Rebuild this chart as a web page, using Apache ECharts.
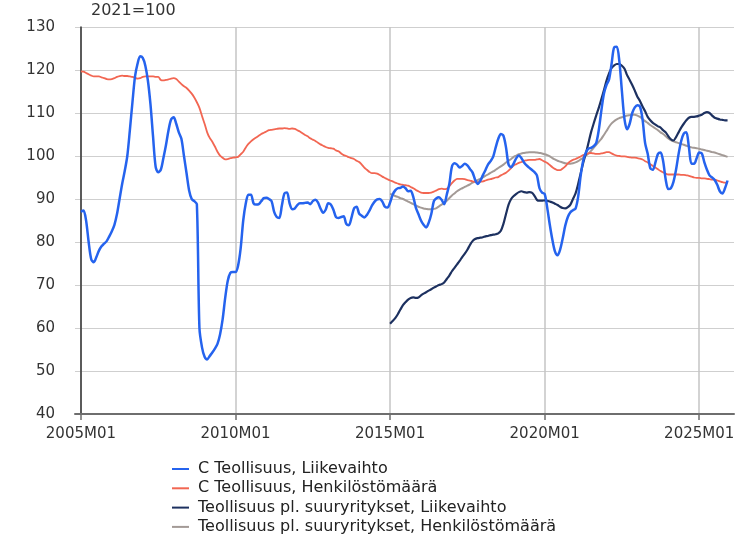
<!DOCTYPE html>
<html>
<head>
<meta charset="utf-8">
<script src="https://cdn.jsdelivr.net/npm/echarts@6/dist/echarts.min.js"></script>
<style>html,body{margin:0;padding:0;background:#fff}#c{width:751px;height:537px}</style>
</head>
<body>
<div id="c"></div>
<script>
// Month index 0 = 2005M01
const startYear = 2005;
const xTickValues = [0, 60, 120, 180, 240];
const xTickLabels = ['2005M01', '2010M01', '2015M01', '2020M01', '2025M01'];
const seriesNames = [
  'C Teollisuus, Liikevaihto',
  'C Teollisuus, Henkilöstömäärä',
  'Teollisuus pl. suuryritykset, Liikevaihto',
  'Teollisuus pl. suuryritykset, Henkilöstömäärä'
];
// C Teollisuus, Liikevaihto (2005M01 ->)
const cLiikevaihto = [
  87.0, 87.3, 85, 80, 76, 75.3, 76.5, 78, 79, 79.6, 80.2, 81.3,
  82.5, 84, 86.5, 90, 93.5, 96.5, 100, 106, 112.5, 118.5, 121.5, 123.2,
  122.8, 121, 117.5, 112, 104.5, 97.5, 96.2, 96.8, 99.5, 102.5, 106, 108.5,
  109, 107.5, 105.5, 104, 100, 96, 92, 90, 89.5, 88.8, 60, 55.5,
  53.3, 52.7, 53.5, 54.3, 55.2, 56.3, 58.5, 62, 67, 71, 72.8, 73,
  73, 74.5, 78.5, 85, 89, 91, 91, 89, 88.7, 88.8, 89.5, 90.2,
  90.3, 90, 89.5, 87, 85.8, 85.6, 88.5, 91.3, 91.5, 89, 87.6, 87.8,
  88.6, 89, 89, 89.1, 89.2, 88.8, 89.5, 89.8, 89.2, 87.8, 86.8, 87.5,
  89, 88.7, 87.5, 85.8, 85.6, 85.8, 86, 84.2, 83.9, 85.6, 87.8, 88.2,
  86.6, 86.1, 85.7, 86.3, 87.3, 88.5, 89.4, 89.9, 90, 89.4, 88.2, 88,
  89.2, 91, 92, 92.5, 92.6, 92.9, 92.5, 91.8, 91.9, 90.5, 88, 86.5,
  85, 84, 83.4, 84.5, 86.5, 89.5, 90.2, 90.4, 89.8, 88.8, 91, 93.5,
  97.5, 98.3, 98, 97.3, 97.7, 98.2, 97.8, 97, 96.2, 94.5, 93.5, 94.2,
  95.5, 96.7, 98, 98.8, 99.8, 102, 104, 105.1, 104.7, 102, 98, 97.4,
  98.3, 99.5, 100.1, 99.5, 98.5, 97.8, 97.3, 96.8, 96.3, 95.5, 92.5, 91.5,
  91.2, 88, 84, 80.5, 77.8, 76.9, 78.2, 80.8, 83.8, 85.8, 86.9, 87.4,
  87.8, 90.5, 95.5, 99, 100.8, 101.7, 101.9, 102.3, 103, 106, 110.5, 114.5,
  116.5, 117.8, 121.5, 125.3, 125.4, 122, 115, 108.5, 106.2, 107.5, 110, 111.3,
  111.8, 111.5, 108.5, 103, 100.5, 97.2, 96.8, 98.5, 100.5, 100.8, 98.8, 94.5,
  92.3, 92.5, 94, 96.8, 100.5, 103.5, 105.2, 105.5, 102, 98.2, 98.2, 99.5,
  100.8, 100.6, 98.5, 96.8, 95.5, 95, 94.4, 93.3, 91.8, 91.3, 92.5, 94.3
];
// C Teollisuus, Henkilöstömäärä (2005M01 ->)
const cHenkilosto = [
  119.7, 119.6, 119.3, 119, 118.7, 118.5, 118.5, 118.5, 118.3, 118.1, 117.9, 117.8,
  117.9, 118.1, 118.4, 118.6, 118.7, 118.6, 118.6, 118.5, 118.4, 118.2, 118, 118.1,
  118.4, 118.5, 118.5, 118.5, 118.5, 118.4, 118.4, 117.7, 117.6, 117.7, 117.8, 118,
  118.1, 117.9, 117.3, 116.7, 116.2, 115.8, 115.2, 114.5, 113.6, 112.5, 111.2, 109.3,
  107.5, 105.5, 104.2, 103.3, 102.2, 101, 100.1, 99.6, 99.2, 99.3, 99.5, 99.6,
  99.7, 99.8, 100.4, 101, 102, 102.8, 103.4, 103.9, 104.3, 104.7, 105.1, 105.4,
  105.7, 106, 106.1, 106.2, 106.3, 106.4, 106.4, 106.5, 106.4, 106.3, 106.4, 106.3,
  106, 105.7, 105.3, 104.9, 104.6, 104.1, 103.8, 103.5, 103.1, 102.7, 102.4, 102.1,
  101.9, 101.8, 101.7, 101.3, 101.1, 100.6, 100.2, 100, 99.7, 99.5, 99.3, 98.9,
  98.6, 98, 97.3, 96.8, 96.3, 96, 96, 95.9, 95.6, 95.2, 94.9, 94.6,
  94.3, 94.1, 93.8, 93.6, 93.4, 93.3, 93.2, 93.1, 92.8, 92.5, 92.1, 91.8,
  91.5, 91.4, 91.4, 91.4, 91.5, 91.7, 92, 92.3, 92.4, 92.3, 92.4, 93,
  93.7, 94.3, 94.7, 94.7, 94.7, 94.6, 94.4, 94.3, 94.1, 94, 93.9, 94,
  94.1, 94.3, 94.5, 94.6, 94.8, 95, 95.1, 95.5, 95.8, 96.1, 96.6, 97.2,
  97.8, 98.1, 98.4, 98.6, 98.9, 99, 99.1, 99.1, 99.1, 99.2, 99.3, 99,
  98.7, 98.4, 97.9, 97.4, 97, 96.7, 96.7, 97.1, 97.6, 98.3, 98.8, 99.1,
  99.3, 99.6, 99.9, 100.2, 100.4, 100.6, 100.7, 100.6, 100.5, 100.5, 100.6, 100.7,
  100.9, 100.9, 100.6, 100.3, 100.1, 100, 99.9, 99.9, 99.8, 99.7, 99.6, 99.6,
  99.5, 99.4, 99.2, 98.8, 98.5, 98.1, 97.7, 97.3, 96.9, 96.5, 96.2, 95.9,
  95.7, 95.7, 95.7, 95.7, 95.7, 95.6, 95.6, 95.5, 95.4, 95.2, 95, 94.9,
  94.9, 94.8, 94.8, 94.7, 94.6, 94.5, 94.5, 94.3, 94.1, 93.9, 93.8, 93.7
];
// Teollisuus pl. suuryritykset (2015M01 ->)
const plStartIndex = 120;
const plLiikevaihto = [
  61, 61.6, 62.3, 63.2, 64.3, 65.3, 66, 66.6, 67, 67.1, 67, 67.1,
  67.6, 68, 68.3, 68.7, 69, 69.4, 69.7, 70, 70.2, 70.6, 71.4, 72.2,
  73.2, 74, 74.8, 75.6, 76.5, 77.3, 78.2, 79.3, 80.2, 80.7, 80.9, 81,
  81.1, 81.3, 81.4, 81.6, 81.7, 81.8, 82, 82.6, 84.2, 86.5, 88.7, 90,
  90.7, 91.2, 91.6, 91.8, 91.6, 91.5, 91.6, 91.5, 90.8, 89.8, 89.6, 89.6,
  89.7, 89.6, 89.4, 89.2, 88.9, 88.6, 88.2, 87.9, 87.8, 88.1, 88.7, 90,
  91.3, 93.5, 96, 98.5, 100.6, 103, 105.5, 107.5, 109.4, 111.2, 113.2, 115.3,
  117.5, 119.2, 120.5, 121.1, 121.4, 121.4, 121, 120.3, 118.8, 117.7, 116.5, 115.2,
  113.8, 112.8, 111.5, 110.4, 109.1, 108.3, 107.7, 107.3, 106.9, 106.6, 106, 105.5,
  104.6, 103.9, 103.6, 104.4, 105.5, 106.6, 107.5, 108.3, 108.9, 109.1, 109.1, 109.2,
  109.4, 109.6, 110, 110.2, 110, 109.4, 108.9, 108.7, 108.5, 108.4, 108.3, 108.3
];
const plHenkilosto = [
  91.2, 91, 90.7, 90.5, 90.2, 90, 89.7, 89.4, 89.1, 88.8, 88.5, 88.2,
  88, 87.8, 87.7, 87.6, 87.6, 87.7, 87.9, 88.3, 88.7, 89.1, 89.6, 90.2,
  90.8, 91.3, 91.8, 92.2, 92.5, 92.8, 93.1, 93.4, 93.8, 94.1, 94.4, 94.7,
  95, 95.4, 95.7, 96.1, 96.4, 96.8, 97.2, 97.6, 98, 98.5, 98.9, 99.3,
  99.8, 100.1, 100.4, 100.6, 100.7, 100.8, 100.9, 100.9, 100.9, 100.8, 100.7, 100.6,
  100.4, 100.2, 99.9, 99.5, 99.2, 98.9, 98.7, 98.5, 98.3, 98.2, 98.2, 98.3,
  98.5, 98.8, 99.2, 99.6, 100.1, 100.6, 101.2, 101.9, 102.6, 103.3, 104, 104.9,
  105.8, 106.8, 107.6, 108.1, 108.5, 108.8, 109, 109.2, 109.4, 109.5, 109.6, 109.6,
  109.4, 109.1, 108.6, 108.1, 107.7, 107.2, 106.8, 106.4, 106, 105.5, 105.1, 104.6,
  104.1, 103.7, 103.4, 103.2, 103, 102.8, 102.6, 102.4, 102.2, 102, 101.9, 101.8,
  101.7, 101.5, 101.4, 101.2, 101.1, 100.9, 100.8, 100.6, 100.4, 100.2, 100, 99.8
];
const colors = ['#2563EE', '#F26652', '#1D3160', '#A39A96'];

function toPairs(arr, offset) { return arr.map((v, i) => [offset + i, v]); }
function monthLabel(idx) {
  const k = xTickValues.indexOf(Math.round(idx));
  if (k >= 0) return xTickLabels[k];
  const y = startYear + Math.floor(idx / 12), m = (idx % 12) + 1;
  return y + 'M' + (m < 10 ? '0' + m : m);
}

const FONT = 'DejaVu Sans';
const chart = echarts.init(document.getElementById('c'), null, { renderer: 'canvas' });
const seriesArr = [cLiikevaihto, cHenkilosto, plLiikevaihto, plHenkilosto];
const offsets = [0, 0, plStartIndex, plStartIndex];
const widths = [2.5, 1.8, 2.2, 2];
chart.setOption({
  animation: false,
  color: colors,
  title: {
    text: '2021=100', left: 91, top: 3, padding: 0,
    textStyle: { fontFamily: FONT, fontSize: 16, fontWeight: 'normal', color: '#333' }
  },
  grid: { left: 75, right: 17, top: 27, bottom: 123 },
  xAxis: {
    type: 'value', min: -2.3, max: 253.5,
    axisLine: { show: true, lineStyle: { color: '#6e6e6e', width: 2 } },
    axisTick: { show: true, customValues: xTickValues, length: 6, lineStyle: { color: '#6e6e6e', width: 1.5 } },
    axisLabel: { customValues: xTickValues, formatter: v => monthLabel(v), fontFamily: FONT, fontSize: 15, color: '#333', margin: 13 },
    splitLine: { show: true, lineStyle: { color: '#c4c4c4', width: 1.5 } }
  },
  yAxis: {
    type: 'value', min: 40, max: 130, interval: 10,
    axisLine: { show: true, lineStyle: { color: '#333', width: 1.5 } },
    axisTick: { show: false },
    axisLabel: { fontFamily: FONT, fontSize: 15, color: '#333', margin: 20 },
    splitLine: { show: true, lineStyle: { color: '#cfcfcf', width: 1.2 } }
  },
  legend: {
    orient: 'vertical', left: 172, top: 461, padding: 0, itemGap: 3.3,
    itemWidth: 17, itemHeight: 2, icon: 'rect',
    textStyle: { fontFamily: FONT, fontSize: 16, color: '#222', padding: [0, 0, 0, 4] },
    data: seriesNames
  },
  series: seriesArr.map((arr, k) => ({
    name: seriesNames[k], type: 'line', data: toPairs(arr, offsets[k]),
    showSymbol: false, symbol: 'none', smooth: 0.3,
    lineStyle: { width: widths[k], color: colors[k] },
    z: [4, 2, 3, 1][k]
  }))
});
</script>
</body>
</html>
